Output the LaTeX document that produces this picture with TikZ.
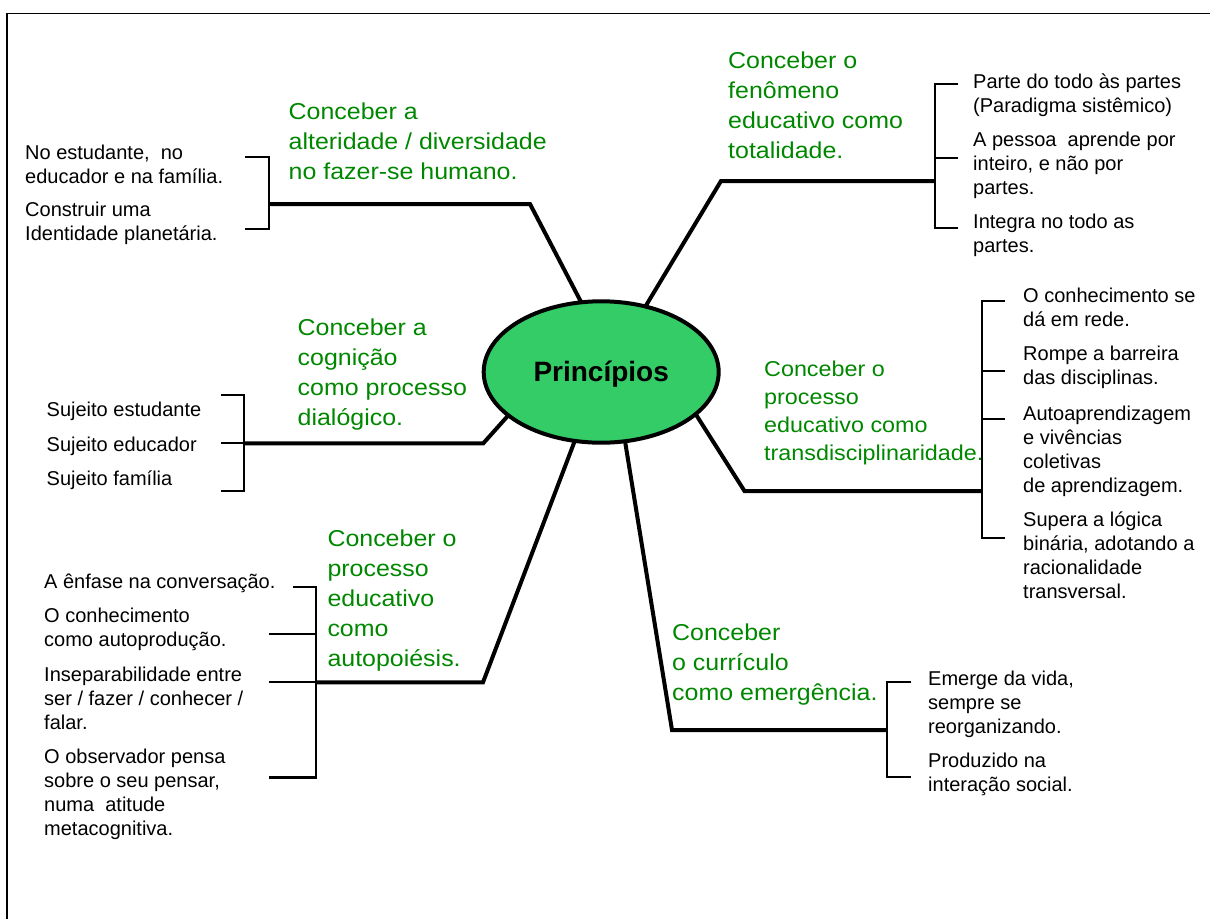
\documentclass[tikz,border=0pt]{standalone}
\usepackage{fontspec}
\setmainfont{Liberation Sans}
\newfontfamily\greenfont[FakeStretch=1.085]{Liberation Sans}
\usetikzlibrary{shapes.geometric}
\definecolor{ellgreen}{RGB}{51,204,102}
\definecolor{txtgreen}{RGB}{0,135,0}
\newcommand\blk[1]{\begin{tabular}[t]{@{}l@{}}#1\end{tabular}}
\begin{document}
\begin{tikzpicture}[x=1pt,y=-1pt,
  branch/.style={line width=4pt, line join=miter},
  brack/.style={line width=2.2pt},
  sub/.style={anchor=base west, inner sep=0pt, font=\fontsize{20}{24}\selectfont, text=black},
  head/.style={anchor=base west, inner sep=0pt, font=\greenfont\fontsize{23}{30}\selectfont, text=txtgreen},
]
\useasboundingbox (0,0) rectangle (1210,919);
% frame
\draw[line width=1.5pt] (7,919) -- (7,13.5) -- (1210,13.5);

% central ellipse
\node[ellipse, draw, line width=4pt, fill=ellgreen, minimum width=235pt, minimum height=141.4pt,
  inner sep=0pt, outer sep=0pt, font=\bfseries\fontsize{28}{30}\selectfont,
  text height=19.4pt, text depth=0pt] (E) at (601.2,372) {Princípios};

% bend and junction coordinates
\coordinate (k1) at (530,204);   \coordinate (j1) at (269,204);
\coordinate (k2) at (721,181);   \coordinate (j2) at (935,181);
\coordinate (k3) at (483.3,443.3); \coordinate (j3) at (244,443.3);
\coordinate (k4) at (483,682.3); \coordinate (j4) at (316,682.3);
\coordinate (k5) at (672,730);   \coordinate (j5) at (887,730);
\coordinate (k6) at (744.5,491); \coordinate (j6) at (982,491);

% branches
\draw[branch] (E.106.7) -- (k1) -- (j1);
\draw[branch] (E.56.4) -- (k2) -- (j2);
\draw[branch] (E.205.9) -- (k3) -- (j3);
\draw[branch] (E.249.6) -- (k4) -- (j4);
\draw[branch] (E.289) -- (k5) -- (j5);
\draw[branch] (E.336.3) -- (k6) -- (j6);

% brackets
\draw[brack] (245,156.7) -- (269,156.7) -- (269,229.3) -- (245,229.3);
\draw[brack] (958,84.3) -- (935,84.3) -- (935,227.7) -- (958,227.7);
\draw[brack] (935,157.7) -- (958,157.7);
\draw[brack] (220.7,395.3) -- (244,395.3) -- (244,491) -- (220.7,491);
\draw[brack] (220.7,443.3) -- (244,443.3);
\draw[brack] (292.5,586.7) -- (316,586.7) -- (316,777.5) -- (269,777.5);
\draw[brack] (269,634.3) -- (316,634.3);
\draw[brack] (269,682.3) -- (316,682.3);
\draw[brack] (911,682.3) -- (887,682.3) -- (887,777.3) -- (911,777.3);
\draw[brack] (1005,300.7) -- (982,300.7) -- (982,537.7) -- (1005,537.7);
\draw[brack] (982,371) -- (1005,371);
\draw[brack] (982,419.3) -- (1005,419.3);

% green headings
\node[head] (g1) at (288.5,119) {\blk{Conceber a\\alteridade / diversidade\\no fazer-se humano.}};
\node[head] (g2) at (728,68.3) {\blk{Conceber o\\fenômeno\\educativo como\\totalidade.}};
\node[head] (g3) at (297.5,335) {\blk{Conceber a\\cognição\\como processo\\dialógico.}};
\node[head] (g4) at (327.3,546.7) {\blk{Conceber o\\processo\\educativo\\como\\autopoiésis.}};
\node[head] (g5) at (672,640) {\blk{Conceber\\o currículo\\como emergência.}};
\node[head, font=\greenfont\fontsize{21.5}{28}\selectfont] (g6) at (764,376) {\blk{Conceber o\\processo\\educativo como\\transdisciplinaridade.}};

% black items
\node[sub] (a1) at (25,159.5) {\blk{No estudante,\ \ no\\educador e na família.}};
\node[sub] (a2) at (25,216.7) {\blk{Construir uma\\Identidade planetária.}};
\node[sub] (b1) at (973,88) {\blk{Parte do todo às partes\\(Paradigma sistêmico)}};
\node[sub] (b2) at (973,146.5) {\blk{A pessoa\ \ aprende por\\inteiro, e não por\\partes.}};
\node[sub] (b3) at (973,228) {\blk{Integra no todo as\\partes.}};
\node[sub] (c1) at (46.5,416.7) {Sujeito estudante};
\node[sub] (c2) at (46.5,451.2) {Sujeito educador};
\node[sub] (c3) at (46.5,485) {Sujeito família};
\node[sub] (d1) at (44,588.5) {A ênfase na conversação.};
\node[sub] (d2) at (44,622.7) {\blk{O conhecimento\\como autoprodução.}};
\node[sub] (d3) at (44,681.7) {\blk{Inseparabilidade entre\\ser / fazer / conhecer /\\falar.}};
\node[sub] (d4) at (44,763.5) {\blk{O observador pensa\\sobre o seu pensar,\\numa\ \ atitude\\metacognitiva.}};
\node[sub] (e1) at (928,685) {\blk{Emerge da vida,\\sempre se\\reorganizando.}};
\node[sub] (e2) at (928,767) {\blk{Produzido na\\interação social.}};
\node[sub] (f1) at (1023,302) {\blk{O conhecimento se\\dá em rede.}};
\node[sub] (f2) at (1023,360) {\blk{Rompe a barreira\\das disciplinas.}};
\node[sub] (f3) at (1023,420) {\blk{Autoaprendizagem\\e vivências\\coletivas\\de aprendizagem.}};
\node[sub] (f4) at (1023,526.5) {\blk{Supera a lógica\\binária, adotando a\\racionalidade\\transversal.}};
\end{tikzpicture}
\end{document}
